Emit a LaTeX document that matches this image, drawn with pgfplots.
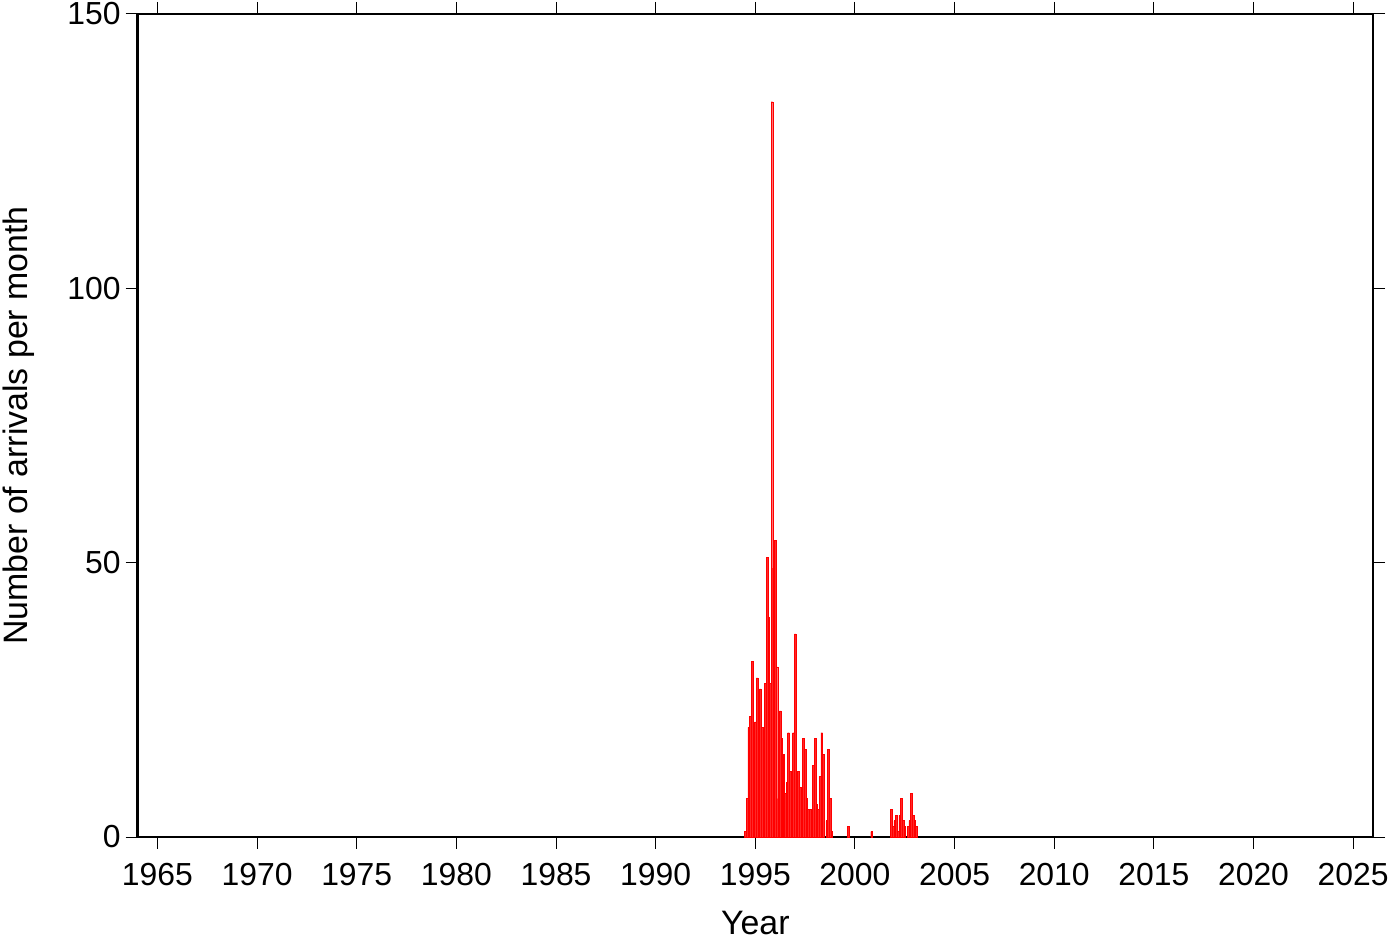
\documentclass[border=0pt]{standalone}
\usepackage{fontspec}
\setmainfont{Liberation Sans}
\usepackage{pgfplots}
\pgfplotsset{compat=1.18}
\begin{document}
\fontsize{16}{19.2}\selectfont
\begin{tikzpicture}
\begin{axis}[
  at={(0,0)}, anchor=origin,
  scale only axis,
  width=620pt, height=413pt,
  xmin=1964, xmax=2026, ymin=0, ymax=150,
  xtick={1965,1970,...,2025},
  ytick={0,50,100,150},
  /pgf/number format/assume math mode=true,
  xticklabel style={/pgf/number format/1000 sep={}},
  tick align=outside,
  tick pos=both,
  major tick length=6pt,
  every tick/.style={black, line width=0.5pt},
  axis line style={line width=1.2pt},
  xlabel={Year},
  ylabel={Number of arrivals per month},
  xlabel style={at={(axis description cs:0.5,0)}, anchor=base, yshift=-49pt, font=\fontsize{17}{20}\selectfont},
  ylabel style={at={(axis description cs:0,0.5)}, anchor=center, yshift=59.5pt, font=\fontsize{17}{20}\selectfont},
  xticklabel style={anchor=base, yshift=-18.5pt, font=\fontsize{16}{19.2}\selectfont},
  yticklabel style={anchor=east, xshift=3pt, font=\fontsize{16}{19.2}\selectfont},
  ybar, bar width=0.0833,
]
\addplot[draw=red, line width=0.2pt, fill={rgb,255:red,255;green,40;blue,40}] coordinates {
(1994.500,1) (1994.583,7) (1994.667,20) (1994.750,22) (1994.833,32)
(1995.000,21) (1995.083,29) (1995.167,26) (1995.250,27) (1995.333,20)
(1995.417,18) (1995.500,28) (1995.583,51) (1995.667,40) (1995.750,28)
(1995.833,134) (1995.917,49) (1996.000,54) (1996.083,31) (1996.167,7)
(1996.250,23) (1996.333,18) (1996.417,15) (1996.500,8) (1996.583,10)
(1996.667,19) (1996.750,12) (1996.833,11) (1996.917,19) (1997.000,37)
(1997.083,4) (1997.167,12) (1997.250,9) (1997.333,9) (1997.417,18)
(1997.500,16) (1997.583,7) (1997.667,5) (1997.750,5) (1997.833,5)
(1997.917,13) (1998.000,18) (1998.083,6) (1998.167,5) (1998.250,11)
(1998.333,19) (1998.417,15) (1998.583,3) (1998.667,16) (1998.750,7)
(1998.833,1)
(1999.667,2) (2000.833,1)
(2001.833,5) (2001.917,2) (2002.000,3) (2002.083,4) (2002.167,1)
(2002.250,4) (2002.333,7) (2002.417,3) (2002.500,2) (2002.667,2)
(2002.750,3) (2002.833,8) (2002.917,4) (2003.000,3) (2003.083,2)
};
\end{axis}
\pgfresetboundingbox
\path (-69pt,-53pt) rectangle (633.5pt,420pt);
\end{tikzpicture}
\end{document}
